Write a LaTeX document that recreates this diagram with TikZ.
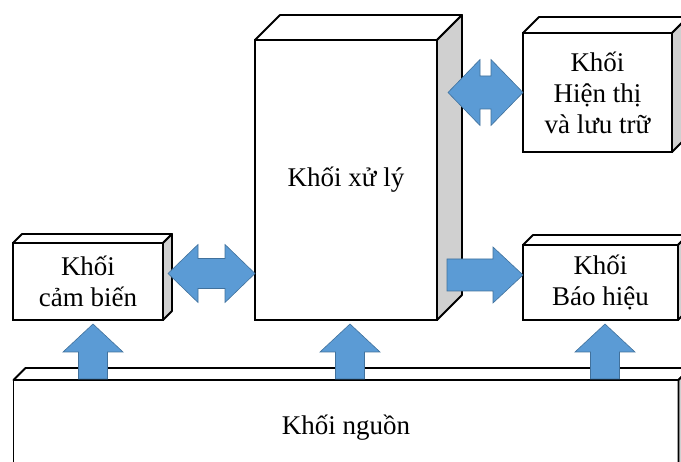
\documentclass[tikz,border=0pt]{standalone}
\usepackage{fontspec}
\setmainfont{Liberation Serif}
\usetikzlibrary{positioning, calc}
\definecolor{arrowblue}{RGB}{91,155,213}
\definecolor{arrowedge}{RGB}{65,113,156}
\definecolor{sidegray}{RGB}{208,208,208}

% block arrows: #1 tail/left, #2 tip/right, #3 half head, #4 half shaft, #5 head length
\newcommand{\fatboth}[5]{%
  \draw[fatarrow] let \p1=(#1), \p2=(#2) in
    (\x1,\y1) -- (\x1+#5pt,\y1+#3pt) -- (\x1+#5pt,\y1+#4pt) -- (\x2-#5pt,\y1+#4pt)
    -- (\x2-#5pt,\y1+#3pt) -- (\x2,\y1) -- (\x2-#5pt,\y1-#3pt) -- (\x2-#5pt,\y1-#4pt)
    -- (\x1+#5pt,\y1-#4pt) -- (\x1+#5pt,\y1-#3pt) -- cycle;}
\newcommand{\fatright}[5]{%
  \draw[fatarrow] let \p1=(#1), \p2=(#2) in
    (\x1,\y1+#4pt) -- (\x2-#5pt,\y1+#4pt) -- (\x2-#5pt,\y1+#3pt) -- (\x2,\y1)
    -- (\x2-#5pt,\y1-#3pt) -- (\x2-#5pt,\y1-#4pt) -- (\x1,\y1-#4pt) -- cycle;}
\newcommand{\fatup}[5]{%
  \draw[fatarrow] let \p1=(#1), \p2=(#2) in
    (\x1-#4pt,\y1) -- (\x1-#4pt,\y2-#5pt) -- (\x1-#3pt,\y2-#5pt) -- (\x1,\y2)
    -- (\x1+#3pt,\y2-#5pt) -- (\x1+#4pt,\y2-#5pt) -- (\x1+#4pt,\y1) -- cycle;}

\begin{document}
\begin{tikzpicture}[
    x=1pt, y=1pt,
    blok/.style={rectangle, draw=black, line width=1.8pt, fill=white, inner sep=0pt, outer sep=0pt, align=center, font=\fontsize{27}{31}\selectfont},
    face/.style={draw=black, line width=1.8pt, line join=round},
    fatarrow/.style={fill=arrowblue, draw=arrowedge, line width=0.6pt}
  ]
    \useasboundingbox (0,0) rectangle (681,462);

    \node[blok, minimum width=182pt, minimum height=280pt] (xuly) at (346,282) {Khối xử lý};
    \node[blok, minimum width=150pt, minimum height=77pt, left=92pt of xuly.south west, anchor=south east] (cambien) {Khối\\cảm biến};
    \node[blok, minimum width=155pt, minimum height=75pt, right=86pt of xuly.south east, anchor=south west] (baohieu) {Khối\\Báo hiệu};
    \node[blok, minimum width=149pt, minimum height=119pt, right=86pt of xuly.north east, anchor=north west, yshift=7pt] (hienthi) {Khối\\Hiện thị\\và lưu trữ};
    \node[blok, minimum width=665pt, minimum height=96pt, below=60pt of xuly.south, anchor=north] (nguon) {Khối nguồn};

    % top and side faces
    \foreach \n/\d in {xuly/25, hienthi/16, cambien/9, baohieu/10, nguon/12} {
        \draw[face, fill=white] (\n.north west) -- ++(\d,\d) -- ($(\n.north east)+(\d,\d)$) -- (\n.north east) -- cycle;
        \draw[face, fill=sidegray] (\n.north east) -- ++(\d,\d) -- ($(\n.south east)+(\d,\d)$) -- (\n.south east) -- cycle;
    }

    % arrows
    \coordinate (cb-r) at ($(cambien.east)+(5,8)$);
    \coordinate (xl-l) at (xuly.west |- cb-r);
    \fatboth{cb-r}{xl-l}{29}{15}{30}

    \coordinate (xl-t) at ($(xuly.east |- hienthi.west)+(11,0)$);
    \fatboth{xl-t}{hienthi.west}{33}{16.5}{32}

    \coordinate (xl-b) at ($(xuly.east |- baohieu.west)+(10,7.5)$);
    \coordinate (bh-l) at (baohieu.west |- xl-b);
    \fatright{xl-b}{bh-l}{28}{16}{30}

    \coordinate (cb-b) at ($(cambien.south)+(5,-4)$);
    \coordinate (xl-s) at ($(xuly.south)+(4,-4)$);
    \coordinate (bh-b) at ($(baohieu.south)+(4.5,-4)$);
    \coordinate (ng-1) at ($(cb-b |- nguon.north)+(0,1)$);
    \coordinate (ng-2) at ($(xl-s |- nguon.north)+(0,1)$);
    \coordinate (ng-3) at ($(bh-b |- nguon.north)+(0,1)$);
    \fatup{ng-1}{cb-b}{30}{14.5}{28}
    \fatup{ng-2}{xl-s}{30}{14.5}{28}
    \fatup{ng-3}{bh-b}{30}{14.5}{28}
\end{tikzpicture}
\end{document}
